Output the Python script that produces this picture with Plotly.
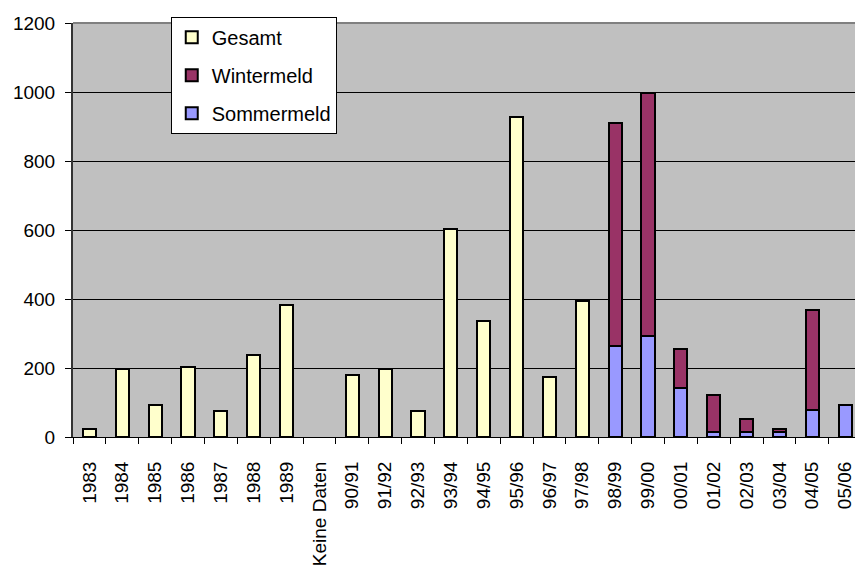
import plotly.graph_objects as go

categories = ["1983", "1984", "1985", "1986", "1987", "1988", "1989", "Keine Daten",
              "90/91", "91/92", "92/93", "93/94", "94/95", "95/96", "96/97", "97/98",
              "98/99", "99/00", "00/01", "01/02", "02/03", "03/04", "04/05", "05/06"]

gesamt = [23, 197, 93, 203, 75, 238, 383, None,
          180, 197, 75, 603, 336, 927, 174, 393,
          None, None, None, None, None, None, None, None]

sommermeld = [None] * 16 + [265, 294, 143, 14, 14, 14, 79, 93]
wintermeld = [None] * 16 + [645, 703, 112, 108, 38, 9, 290, 0]

font = "Liberation Sans, Arial, sans-serif"
outline = dict(color="black", width=2)

fig = go.Figure()
fig.add_trace(go.Bar(x=categories, y=gesamt, name="Gesamt", marker=dict(color="#FFFFCC", line=outline),
                     legendgroup="g", legendrank=1))
fig.add_trace(go.Bar(x=categories, y=sommermeld, name="Sommermeld", marker=dict(color="#9999FF", line=outline),
                     legendgroup="s", legendrank=3))
fig.add_trace(go.Bar(x=categories, y=wintermeld, name="Wintermeld", marker=dict(color="#993366", line=outline),
                     legendgroup="w", legendrank=2))

fig.update_layout(
    width=855, height=573,
    barmode="stack",
    bargap=0.6,
    plot_bgcolor="#C0C0C0",
    paper_bgcolor="white",
    margin=dict(l=73, r=0, t=23, b=136),
    font=dict(family=font, size=19, color="black"),
    showlegend=True,
    legend=dict(x=0.125, y=1.015, xanchor="left", yanchor="top",
                bgcolor="white", bordercolor="black", borderwidth=1,
                traceorder="grouped", tracegroupgap=9,
                font=dict(family=font, size=20), itemwidth=30),
    xaxis=dict(range=[-0.5, 23.3], tickangle=-90, showline=True, linecolor="black", linewidth=1,
               ticks="outside", tickson="boundaries", ticklen=6, tickcolor="black",
               showgrid=False, ticklabelstandoff=16),
    yaxis=dict(range=[0, 1200], dtick=200, showgrid=True, gridcolor="black", gridwidth=1,
               showline=True, linecolor="#333333", linewidth=2, ticks="outside", ticklen=6,
               tickcolor="black", zeroline=False, ticklabelstandoff=6),
)
fig.add_shape(type="line", xref="paper", yref="paper", x0=0, x1=1, y0=1, y1=1,
              line=dict(color="#808080", width=2))

# drop the default body margin so the figure fills the window exactly
fig.write_html("out.html", config={"displayModeBar": False},
               post_script="document.body.style.margin='0';document.body.style.overflow='hidden';")
